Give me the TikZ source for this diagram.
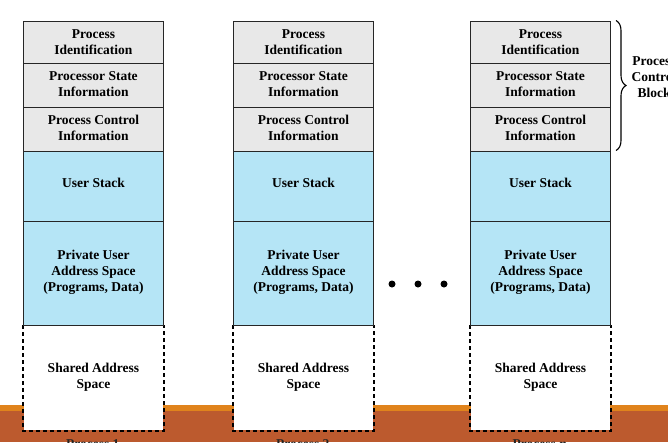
\documentclass[tikz,border=0pt]{standalone}
\usepackage{fontspec}
\setmainfont{Liberation Serif}
\usetikzlibrary{decorations.pathreplacing}
\definecolor{pcbgray}{RGB}{232,232,232}
\definecolor{stackblue}{RGB}{181,229,246}
\definecolor{bandorange}{RGB}{224,131,28}
\definecolor{bandbrown}{RGB}{188,90,46}
\tikzset{
  cell/.style={draw=black!85, line width=1.4pt, rectangle, anchor=north west, inner sep=0pt,
    minimum width=139.5pt, align=center, font=\fontsize{13.5}{16}\selectfont\bfseries},
  graycell/.style={cell, fill=pcbgray},
  bluecell/.style={cell, fill=stackblue},
  sharedcell/.style={cell, draw=none, fill=white},
  dashline/.style={line width=1.8pt, dash pattern=on 4pt off 3pt, black},
  dotmark/.style={circle, fill=black, inner sep=0pt, minimum size=7pt},
  lbl/.style={font=\fontsize{13.5}{16}\selectfont\bfseries, align=center},
}
\begin{document}
\begin{tikzpicture}[x=1pt,y=-1pt]
\useasboundingbox (0,0) rectangle (668,442);
\fill[white] (0,0) rectangle (668,442);
\fill[bandorange] (0,405) rectangle (668,410.5);
\fill[bandbrown] (0,410.5) rectangle (668,442);
\foreach \L/\n/\lab in {23/a/1, 233/b/2, 470/c/n}{
  \node[sharedcell, minimum height=104.5pt] (\n sh) at (\L,325) {Shared Address\\Space\\[-12pt]};
  \draw[dashline] (\n sh.north west) -- (\n sh.south west) -- (\n sh.south east) -- (\n sh.north east);
  \node[graycell, minimum height=42.5pt] (\n pid) at (\L,20.5) {Process\\Identification};
  \node[graycell, minimum height=44pt] (\n psi) at (\L,63) {Processor State\\Information\\[-12pt]};
  \node[graycell, minimum height=43.5pt] (\n pci) at (\L,107) {Process Control\\Information\\[-12pt]};
  \node[bluecell, minimum height=70pt] (\n us) at (\L,150.5) {User Stack\\[-9pt]};
  \node[bluecell, minimum height=104.5pt] (\n pua) at (\L,220.5) {Private User\\Address Space\\(Programs, Data)\\[-10pt]};
  \node[lbl, anchor=base, text=black!85] (\n lb) at (\L+69.75,448) {Process \lab};
}
\node[dotmark] (d1) at (392,284) {};
\node[dotmark] (d2) at (418,284) {};
\node[dotmark] (d3) at (444,284) {};
\coordinate (bt) at (616,20.5);
\coordinate (bb) at (616,150.5);
\draw[line width=1.1pt, decorate, decoration={brace, amplitude=10pt}] (bt) -- (bb);
\node[lbl] (pcb) at (654,77) {Process\\Control\\Block};
\end{tikzpicture}
\end{document}
